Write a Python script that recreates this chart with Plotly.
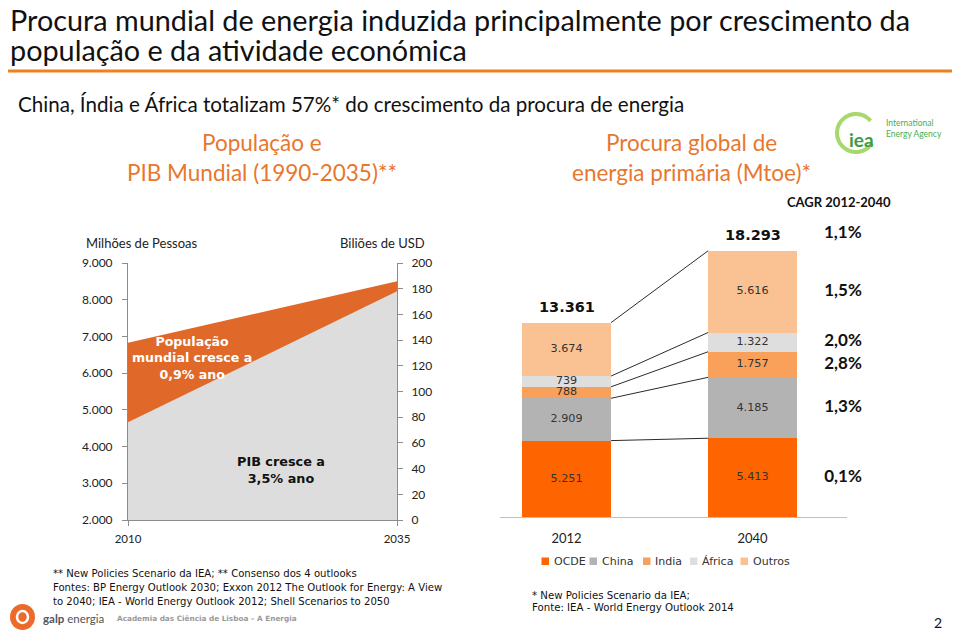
import math
import plotly.graph_objects as go

# the page body has an 8px margin: the figure is made 8px smaller on each side
OFF = 8
W, H = 960 - OFF, 634 - OFF


def px(x):
    return (x - OFF) / W


def py(y):
    return 1 - (y - OFF) / H


# ---------------- data ----------------
pop_years = [2010, 2035]
pop_values = [6830, 8500]          # Milhões de Pessoas
gdp_years = [2010, 2035]
gdp_values = [76, 178]             # Biliões de USD
left_x_ticks = [2010, 2035]
left_y_ticks = [2000, 3000, 4000, 5000, 6000, 7000, 8000, 9000]
right_y_ticks = [0, 20, 40, 60, 80, 100, 120, 140, 160, 180, 200]

bar_years = ["2012", "2040"]
regions = ["OCDE", "China", "India", "África", "Outros"]
ocde = [5251, 5413]
china = [2909, 4185]
india = [788, 1757]
africa = [739, 1322]
outros = [3674, 5616]
totals = [13361, 18293]
cagr_regions = ["0,1%", "1,3%", "2,8%", "2,0%", "1,5%"]
cagr_total = "1,1%"

# ---------------- styles ----------------
CAL = "Lato, Liberation Sans, Arial, sans-serif"
VER = "DejaVu Sans, Verdana, sans-serif"
ORANGE_TXT = "#E8772E"
colors = ["#FE6500", "#B3B3B3", "#F9A05A", "#DEDEDE", "#FAC292"]
series = [ocde, china, india, africa, outros]
bar_w = 0.4785


def fmt(v):
    return f"{v:,}".replace(",", ".")


fig = go.Figure()

# ---------------- left chart: areas ----------------
fig.add_trace(go.Scatter(
    x=pop_years, y=pop_values, mode="lines", fill="tozeroy",
    line=dict(width=0, color="#E0692A"), fillcolor="#E0692A",
    xaxis="x", yaxis="y", hoverinfo="skip", showlegend=False))
fig.add_trace(go.Scatter(
    x=gdp_years, y=gdp_values, mode="lines", fill="tozeroy",
    line=dict(width=0, color="#DDDDDD"), fillcolor="#DDDDDD",
    xaxis="x", yaxis="y2", hoverinfo="skip", showlegend=False))

# ---------------- right chart: stacked bars ----------------
xb = [0, 1]
for name, vals, col in zip(regions, series, colors):
    fig.add_trace(go.Bar(
        x=xb, y=vals, name=name, width=bar_w, marker=dict(color=col, line=dict(width=0)),
        xaxis="x3", yaxis="y3", hoverinfo="skip", showlegend=False))

# cumulative tops & centres
cum = [[0, 0]]
for vals in series:
    cum.append([cum[-1][i] + vals[i] for i in range(2)])
centres = [[(cum[k][i] + cum[k + 1][i]) / 2 for i in range(2)] for k in range(len(series))]

# segment labels
lx, ly, lt = [], [], []
for k, vals in enumerate(series):
    for i in range(2):
        lx.append(xb[i])
        ly.append(centres[k][i])
        lt.append(fmt(vals[i]))
fig.add_trace(go.Scatter(
    x=lx, y=ly, text=lt, mode="text", textposition="middle center", cliponaxis=False,
    textfont=dict(family=VER, size=11.2, color="#333333"),
    xaxis="x3", yaxis="y3", hoverinfo="skip", showlegend=False))

# connector lines
cx, cy = [], []
for k in range(1, len(cum)):
    cx += [xb[0] + bar_w / 2, xb[1] - bar_w / 2, None]
    cy += [cum[k][0], cum[k][1], None]
fig.add_trace(go.Scatter(
    x=cx, y=cy, mode="lines", line=dict(color="#2B2B2B", width=1),
    xaxis="x3", yaxis="y3", hoverinfo="skip", showlegend=False))

# CAGR column
cagr_x = 1.4866
fig.add_trace(go.Scatter(
    x=[cagr_x] * len(cagr_regions), y=[c[1] for c in centres], text=cagr_regions,
    mode="text", textposition="middle center", cliponaxis=False,
    textfont=dict(family=CAL, size=17, color="#111111", weight="bold"),
    xaxis="x3", yaxis="y3", hoverinfo="skip", showlegend=False))

annotations = []
for i in range(2):
    annotations.append(dict(
        x=xb[i], y=totals[i], xref="x3", yref="y3", text="<b>" + fmt(totals[i]) + "</b>",
        showarrow=False, yshift=16, font=dict(family=VER, size=14.5, color="#111111")))
annotations.append(dict(
    x=cagr_x, y=totals[1], xref="x3", yref="y3", text="<b>" + cagr_total + "</b>",
    showarrow=False, yshift=19, font=dict(family=CAL, size=17, color="#111111")))


def txt(x, y, text, size, family=CAL, color="#111111", xanchor="center", yanchor="middle", align="center"):
    annotations.append(dict(x=px(x), y=py(y), xref="paper", yref="paper", text=text,
                            showarrow=False, xanchor=xanchor, yanchor=yanchor, align=align,
                            font=dict(family=family, size=size, color=color)))


# titles
txt(8, 20, "Procura mundial de energia induzida principalmente por crescimento da", 28.8, xanchor="left")
txt(8, 50, "população e da atividade económica", 28.8, xanchor="left")
txt(16, 104, "China, Índia e África totalizam 57%* do crescimento da procura de energia", 20.6, xanchor="left")
txt(262, 143, "População e", 22.5, color=ORANGE_TXT)
txt(262, 172, "PIB Mundial (1990-2035)**", 22.5, color=ORANGE_TXT)
txt(691, 143, "Procura global de", 22.5, color=ORANGE_TXT)
txt(691, 172, "energia primária (Mtoe)*", 22.5, color=ORANGE_TXT)
txt(839, 202, "<b>CAGR 2012-2040</b>", 13)

# left chart axis titles & inner labels
txt(84, 243, "Milhões de Pessoas", 13, xanchor="left", color="#222222")
txt(427, 243, "Biliões de USD", 13, xanchor="right", color="#222222")
txt(192, 358, "<b>População<br>mundial cresce a<br>0,9% ano</b>", 12.6, family=VER, color="#FFFFFF")
txt(281, 470, "<b>PIB cresce a<br>3,5% ano</b>", 12.8, family=VER, color="#111111")

# manual legend
legend_x = [541.5, 589.5, 643, 690, 740.5]
shapes = []
for name, col, lxp in zip(regions, colors, legend_x):
    shapes.append(dict(type="rect", xref="paper", yref="paper",
                       x0=px(lxp), x1=px(lxp + 7.5), y0=py(565), y1=py(557.5),
                       fillcolor=col, line=dict(width=0)))
    txt(lxp + 10, 561.5, name, 11, family=VER, color="#333333", xanchor="left")

# footnotes
txt(51, 573, "** New Policies Scenario da IEA; ** Consenso dos 4 outlooks", 10.1, family=VER, xanchor="left")
txt(51, 587, "Fontes: BP Energy Outlook 2030; Exxon 2012 The Outlook for Energy: A View", 10.1, family=VER, xanchor="left")
txt(51, 601, "to 2040; IEA - World Energy Outlook 2012; Shell Scenarios to 2050", 10.1, family=VER, xanchor="left")
txt(530, 595, "* New Policies Scenario da IEA;", 10.2, family=VER, xanchor="left")
txt(530, 607, "Fonte: IEA - World Energy Outlook 2014", 10.2, family=VER, xanchor="left")

# galp footer
shapes.append(dict(type="circle", xref="paper", yref="paper", x0=px(10), x1=px(35), y0=py(630), y1=py(604),
                   fillcolor="#EE6A2A", line=dict(width=0)))
shapes.append(dict(type="circle", xref="paper", yref="paper", x0=px(17), x1=px(28), y0=py(623), y1=py(611),
                   fillcolor="rgba(0,0,0,0)", line=dict(width=2.5, color="#FFFFFF")))
txt(41, 618, "<b>galp</b> energia", 11.5, family=CAL, color="#555555", xanchor="left")
txt(115, 618, "<b>Academia das Ciência de Lisboa – A Energia</b>", 7.3, family=VER, color="#9A9A9A", xanchor="left")
txt(938, 622, "2", 14, color="#111111")

# IEA logo
cxl, cyl, r = 856, 133, 19
pts = []
for a in range(40, 330, 6):
    t = math.radians(a)
    pts.append((cxl + r * math.cos(t), cyl - r * math.sin(t)))
path = "M " + " L ".join(f"{px(x):.5f},{py(y):.5f}" for x, y in pts)
shapes.append(dict(type="path", xref="paper", yref="paper", path=path,
                   line=dict(color="#A6D86E", width=4)))
txt(861, 140, "<b>iea</b>", 19, family=CAL, color="#3E9B3A")
txt(884, 128, "International<br>Energy Agency", 8.5, family=CAL, color="#4BAE50", xanchor="left", align="left")

# orange rule
shapes.append(dict(type="line", xref="paper", yref="paper", x0=0, x1=1, y0=py(71), y1=py(71),
                   line=dict(color="#F07F1F", width=3)))

axis_col = "#8C8C8C"
fig.update_layout(
    width=W, height=H, margin=dict(l=0, r=0, t=0, b=0, pad=0, autoexpand=False),
    paper_bgcolor="white", plot_bgcolor="rgba(0,0,0,0)",
    separators=",.", barmode="stack", showlegend=False,
    font=dict(family=CAL, color="#222222"),
    xaxis=dict(domain=[px(128), px(397)], range=[2010, 2035], tickvals=left_x_ticks,
               ticktext=[str(v) for v in left_x_ticks], showline=True, linecolor=axis_col,
               ticks="outside", ticklen=5, tickcolor=axis_col, showgrid=False, zeroline=False,
               tickfont=dict(family=CAL, size=11.5, color="#222222"), anchor="y", fixedrange=True,
               ticklabelstandoff=3, automargin=False),
    yaxis=dict(domain=[py(520), py(263)], range=[2000, 9000], tickvals=left_y_ticks, tickformat=",d",
               showline=True, linecolor=axis_col, ticks="outside", ticklen=5, tickcolor=axis_col,
               showgrid=False, zeroline=False, tickfont=dict(family=CAL, size=12, color="#222222"),
               anchor="x", ticklabelstandoff=7, automargin=False),
    yaxis2=dict(overlaying="y", side="right", anchor="x", range=[0, 200], tickvals=right_y_ticks,
                showline=True, linecolor=axis_col, ticks="outside", ticklen=5, tickcolor=axis_col,
                showgrid=False, zeroline=False, tickfont=dict(family=CAL, size=12, color="#222222"),
                ticklabelstandoff=6, automargin=False),
    xaxis3=dict(domain=[px(500), px(847)], range=[-0.358, 1.508], tickvals=xb, ticktext=bar_years,
                showline=True, linecolor="#BFBFBF", ticks="", showgrid=False, zeroline=False,
                tickfont=dict(family=CAL, size=13, color="#222222"), anchor="y3", ticklabelstandoff=9,
                automargin=False),
    yaxis3=dict(domain=[py(517), py(230)], range=[0, 287 / 0.01455], visible=False, anchor="x3",
                automargin=False),
    annotations=annotations, shapes=shapes,
)

fig.write_html("out.html")
